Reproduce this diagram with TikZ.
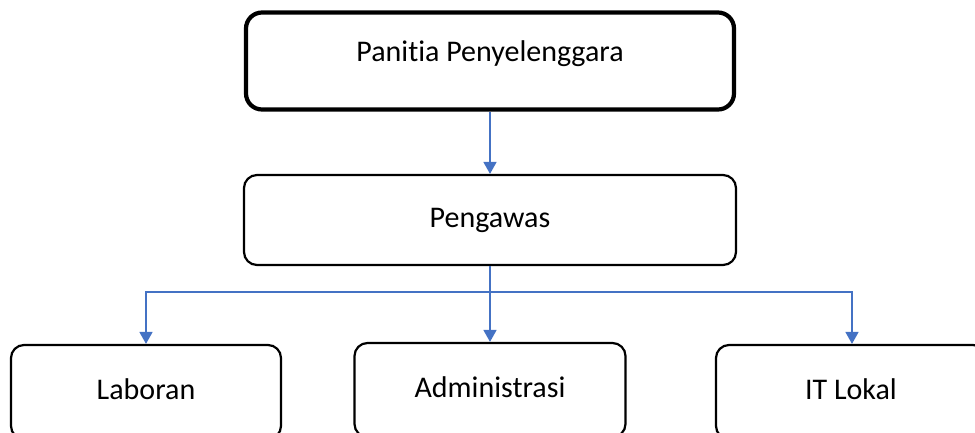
\documentclass[tikz,border=0pt]{standalone}
\usepackage{fontspec}
\setmainfont[Ligatures={NoCommon}]{Carlito}
\usetikzlibrary{arrows.meta}
\definecolor{linkblue}{HTML}{4472C4}
\tikzset{
  box/.style={draw=black, line width=2.2pt, rounded corners=13pt, fill=white,
    font=\fontsize{30}{36}\selectfont, text height=20pt, text depth=6pt,
    inner sep=0pt},
  topbox/.style={box, line width=4.2pt, rounded corners=16pt, text depth=20pt},
  link/.style={draw=linkblue, line width=1.6pt,
    -{Triangle[width=13pt,length=12pt]}},
  trunk/.style={draw=linkblue, line width=1.6pt}
}
\begin{document}
\begin{tikzpicture}[x=1pt,y=-1pt]
\useasboundingbox (0,0) rectangle (975,432);
\clip (0,0) rectangle (975,432);
\node[topbox, minimum width=488pt, minimum height=97pt] (top) at (490,61) {Panitia Penyelenggara};
\node[box, minimum width=492pt, minimum height=90pt] (peng) at (490,220) {Pengawas};
\node[box, minimum width=270pt, minimum height=94pt] (lab) at (146,392) {Laboran};
\node[box, minimum width=271pt, minimum height=94pt] (adm) at (490,390) {Administrasi};
\node[box, minimum width=270pt, minimum height=94pt] (itl) at (851,392) {IT Lokal};
\coordinate (split) at ([yshift=-26pt]peng.south);
\draw[link] (top.south) -- (peng.north);
\draw[trunk] (peng.south) -- (split);
\draw[link] (split) -| ([xshift=1pt]itl.north);
\draw[link] (split) -| (lab.north);
\draw[link] (peng.south) -- (adm.north);
\end{tikzpicture}
\end{document}
